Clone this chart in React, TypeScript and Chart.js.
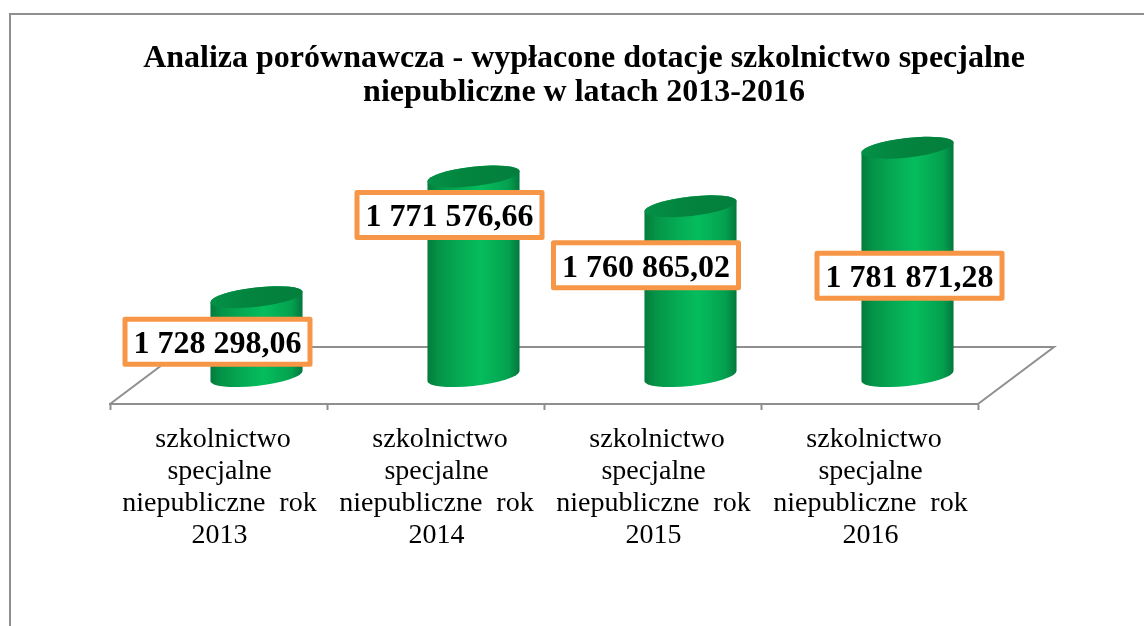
import React, { useEffect, useRef } from "react";
import { Chart, registerables } from "chart.js";

Chart.register(...registerables);

const titleLines = [
  "Analiza porównawcza - wypłacone dotacje szkolnictwo specjalne",
  "niepubliczne w latach 2013-2016",
];
const years = ["2013", "2014", "2015", "2016"];
const categories = years.map((y) => [" szkolnictwo", "specjalne", "niepubliczne  rok", y]);
const values = [1728298.06, 1771576.66, 1760865.02, 1781871.28];
const valueLabels = ["1 728 298,06", "1 771 576,66", "1 760 865,02", "1 781 871,28"];

const axisMin = 1690000;
const axisMax = 1785000;
const barBase = 1700000;

const FONT = '"Liberation Serif", "Times New Roman", serif';
const GREY = "#8f8f8f";
const ORANGE = "#f79646";
const DEPTH_X = 76;
const DEPTH_Y = 57;
const BAR_SHIFT = 38;
const TILT = (-6.5 * Math.PI) / 180;
// label box centre relative to the top of each cylinder
const labelOffsets = [
  [-39, 44.5],
  [-24, 38.5],
  [-44.5, 59],
  [2, 128],
];
const boxW = 185;
const boxH = 45;

const framePlugin = {
  id: "frame",
  beforeDraw(chart: any) {
    const { ctx, width, height } = chart;
    ctx.save();
    ctx.fillStyle = "#fff";
    ctx.fillRect(0, 0, width, height);
    ctx.strokeStyle = GREY;
    ctx.lineWidth = 2;
    ctx.beginPath();
    ctx.moveTo(10, height);
    ctx.lineTo(10, 14);
    ctx.lineTo(width, 14);
    ctx.stroke();
    ctx.restore();
  },
};

const cylinderPlugin = {
  id: "cylinders",
  beforeDatasetsDraw(chart: any) {
    const { ctx, chartArea } = chart;
    const { left, right, bottom } = chartArea;
    ctx.save();
    ctx.strokeStyle = GREY;
    ctx.lineWidth = 2;
    ctx.beginPath();
    ctx.moveTo(left, bottom);
    ctx.lineTo(left + DEPTH_X, bottom - DEPTH_Y);
    ctx.lineTo(right + DEPTH_X, bottom - DEPTH_Y);
    ctx.lineTo(right, bottom);
    ctx.stroke();
    ctx.restore();
  },
  afterDatasetsDraw(chart: any) {
    const { ctx } = chart;
    const els = chart.getDatasetMeta(0).data;
    els.forEach((el: any) => {
      const cx = el.x + BAR_SHIFT;
      const rx = el.width / 2;
      const ry = el.width * 0.105;
      const t = Math.atan(-(ry / rx) * Math.tan(TILT));
      ctx.save();
      const side = ctx.createLinearGradient(cx - rx, 0, cx + rx, 0);
      side.addColorStop(0, "#047a3c");
      side.addColorStop(0.12, "#049347");
      side.addColorStop(0.35, "#05aa54");
      side.addColorStop(0.58, "#05bd5d");
      side.addColorStop(0.88, "#04a04f");
      side.addColorStop(1, "#03763b");
      ctx.fillStyle = side;
      ctx.beginPath();
      ctx.ellipse(cx, el.base, rx, ry, TILT, t, Math.PI + t, false);
      ctx.ellipse(cx, el.y, rx, ry, TILT, Math.PI + t, 2 * Math.PI + t, false);
      ctx.closePath();
      ctx.fill();
      const cap = ctx.createLinearGradient(cx - rx, 0, cx + rx, 0);
      cap.addColorStop(0, "#049147");
      cap.addColorStop(0.4, "#03843f");
      cap.addColorStop(1, "#037f3c");
      ctx.fillStyle = cap;
      ctx.beginPath();
      ctx.ellipse(cx, el.y, rx, ry, TILT, 0, 2 * Math.PI);
      ctx.fill();
      ctx.restore();
    });
    els.forEach((el: any, i: number) => {
      const x = el.x + BAR_SHIFT + labelOffsets[i][0];
      const y = el.y + labelOffsets[i][1];
      ctx.save();
      ctx.fillStyle = "#fff";
      ctx.strokeStyle = ORANGE;
      ctx.lineWidth = 5;
      ctx.lineJoin = "round";
      ctx.beginPath();
      ctx.rect(x - boxW / 2, y - boxH / 2, boxW, boxH);
      ctx.fill();
      ctx.stroke();
      ctx.fillStyle = "#000";
      ctx.font = `bold 32px ${FONT}`;
      ctx.textAlign = "center";
      ctx.textBaseline = "middle";
      ctx.fillText(valueLabels[i], x, y + 3);
      ctx.restore();
    });
  },
};

export default function App() {
  const ref = useRef<HTMLCanvasElement | null>(null);
  useEffect(() => {
    if (!ref.current) return;
    const hiddenAxis = (position: string, w: number) => ({
      position,
      display: true,
      min: axisMin,
      max: axisMax,
      grid: { display: false },
      border: { display: false },
      ticks: { display: false },
      afterFit: (s: any) => {
        s.width = w;
      },
    });
    const chart = new Chart(ref.current, {
      type: "bar",
      data: {
        labels: categories,
        datasets: [
          {
            data: values,
            base: barBase,
            backgroundColor: "transparent",
            borderWidth: 0,
            barPercentage: 0.427,
            categoryPercentage: 1,
            yAxisID: "y",
          },
        ],
      } as any,
      options: {
        responsive: false,
        animation: false,
        layout: { autoPadding: false, padding: { left: 24, right: 0, top: 0, bottom: 0 } },
        plugins: {
          legend: { display: false },
          tooltip: { enabled: false },
          title: {
            display: true,
            text: titleLines,
            color: "#000",
            font: { family: FONT, size: 32, weight: "bold", lineHeight: 34 / 32 },
            padding: { top: 42, bottom: 29 },
          },
        },
        scales: {
          x: {
            position: "bottom",
            offset: true,
            afterFit: (s: any) => {
              s.height = 222;
            },
            border: { color: GREY, width: 2 },
            grid: {
              offset: true,
              drawOnChartArea: false,
              drawTicks: true,
              tickLength: 6,
              tickColor: GREY,
              tickWidth: 2,
            },
            ticks: {
              autoSkip: false,
              maxRotation: 0,
              minRotation: 0,
              padding: 14,
              labelOffset: 1,
              color: "#000",
              font: { family: FONT, size: 28, lineHeight: 32 / 28 },
            },
          },
          y: hiddenAxis("left", 86),
          yRight: hiddenAxis("right", 166),
        },
      } as any,
      plugins: [framePlugin, cylinderPlugin],
    });
    return () => chart.destroy();
  }, []);
  return (
    <canvas
      ref={ref}
      width={1144}
      height={626}
      style={{ position: "absolute", left: 0, top: 0, display: "block" }}
    />
  );
}
